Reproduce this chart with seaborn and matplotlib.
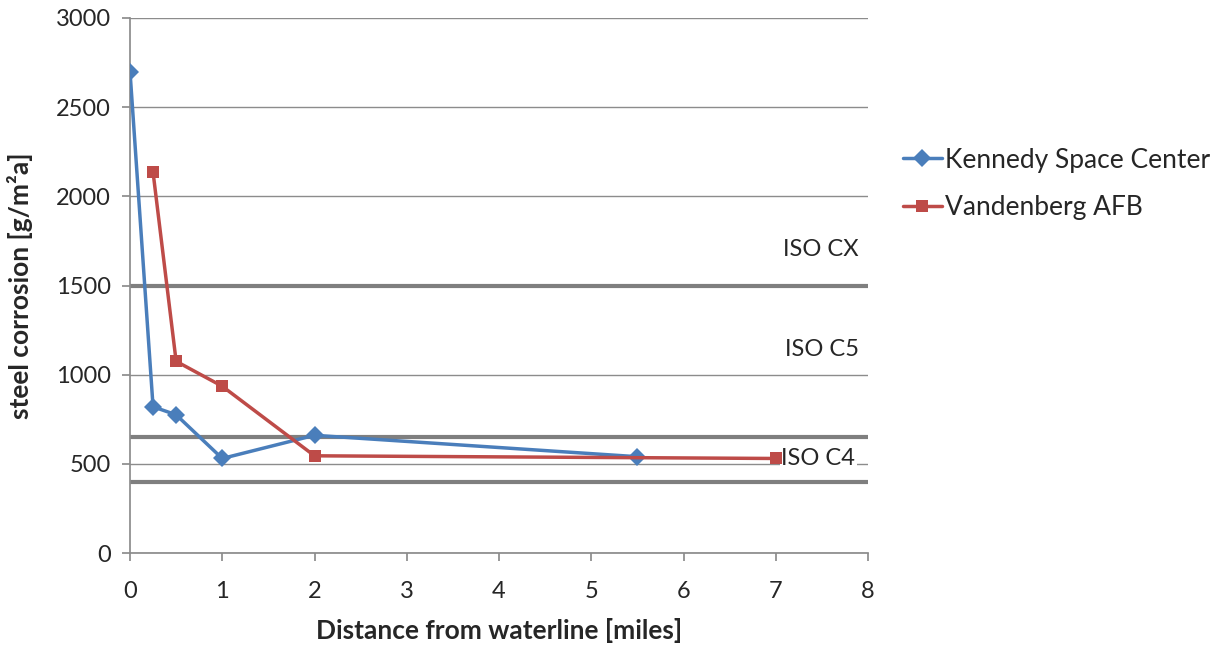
import matplotlib
matplotlib.use("Agg")
import matplotlib.pyplot as plt
import seaborn as sns
import pandas as pd

# data
ksc_dist = [0, 0.25, 0.5, 1, 2, 5.5]
ksc_corr = [2700, 820, 775, 530, 660, 540]
vafb_dist = [0.25, 0.5, 1, 2, 7]
vafb_corr = [2135, 1075, 935, 545, 530]
iso_levels = [1500, 650, 400]
iso_labels = ["ISO CX", "ISO C5", "ISO C4"]
iso_label_y = [1700, 1140, 530]

df = pd.concat([
    pd.DataFrame({"dist": ksc_dist, "corr": ksc_corr, "site": "Kennedy Space Center"}),
    pd.DataFrame({"dist": vafb_dist, "corr": vafb_corr, "site": "Vandenberg AFB"}),
])

sns.set_theme(style="white")
plt.rcParams["font.family"] = ["Lato", "DejaVu Sans"]

fig = plt.figure(figsize=(12.2, 6.48), dpi=100)
ax = fig.add_axes([130 / 1220, 95 / 648, 738 / 1220, 535 / 648])

ax.set_xlim(0, 8)
ax.set_ylim(0, 3000)
ax.set_yticks(range(0, 3001, 500))
ax.set_xticks(range(0, 9))
ax.yaxis.grid(True, color="#8c8c8c", linewidth=1.0)
ax.set_axisbelow(True)

for lvl in iso_levels:
    ax.axhline(lvl, color="#7f7f7f", linewidth=3, zorder=1)

sns.lineplot(data=df, x="dist", y="corr", hue="site", style="site",
             palette=["#4a7ebb", "#be4b48"], markers=["D", "s"], dashes=False,
             markersize=9, linewidth=2.5, markeredgewidth=0, ax=ax, zorder=3)

for i, (lab, yy) in enumerate(zip(iso_labels, iso_label_y)):
    if i == 2:
        ax.text(7.06, yy, lab, fontsize=17, va="center", ha="left", zorder=2,
                bbox=dict(facecolor="white", edgecolor="none", pad=1))
    else:
        ax.text(7.9, yy, lab, fontsize=17, va="center", ha="right", zorder=2)

for s in ["top", "right"]:
    ax.spines[s].set_visible(False)
for s in ["left", "bottom"]:
    ax.spines[s].set_color("#8c8c8c")
ax.tick_params(axis="both", labelsize=17, length=6, color="#8c8c8c",
               direction="out", left=True, bottom=True, pad=8)
ax.tick_params(axis="x", pad=14)

ax.set_xlabel("Distance from waterline [miles]", fontsize=19, fontweight="bold", labelpad=12)
ax.set_ylabel("steel corrosion [g/m²a]", fontsize=19, fontweight="bold", labelpad=16)

leg = ax.legend(loc="center left", bbox_to_anchor=(1.047, 0.69), frameon=False,
                fontsize=19, handlelength=1.5, handletextpad=0.1, labelspacing=0.85,
                borderpad=0, borderaxespad=0)

fig.savefig("out.png", dpi=100)
